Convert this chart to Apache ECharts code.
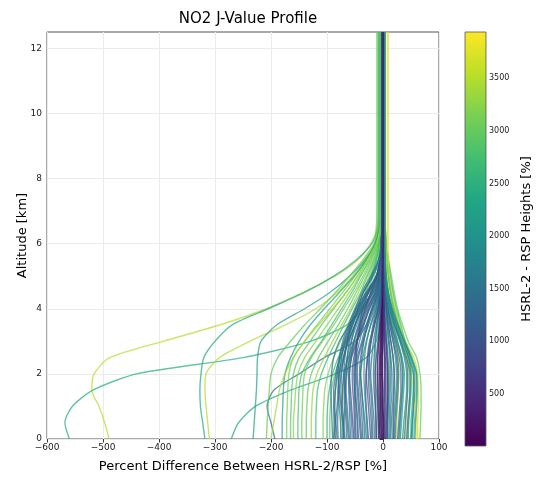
<!DOCTYPE html>
<html>
<head>
<meta charset="utf-8">
<title>NO2 J-Value Profile</title>
<script src="https://cdn.jsdelivr.net/npm/echarts@6/dist/echarts.min.js"></script>
</head>
<body style="margin:0;padding:0;background:#fff;">
<div id="main" style="width:537px;height:478px;"></div>
<script type="text/javascript">
// altitude levels [km] shared by every profile
var altitudes = [0, 0.5, 1, 1.5, 2, 2.5, 3, 3.5, 4, 4.5, 5, 5.5, 6, 6.5, 7, 12.5];

// percent difference profiles, one row per flight leg, values at the altitudes above
var outlierProfiles = [
    [-489, -497, -507, -520, -516, -488, -393, -292, -208, -143, -86, -45, -22, -10, -6, -5],
    [-560, -568, -555, -518, -440, -250, -130, -65, -35, -20, -11, -7, -5, -4, -3, -3],
    [-318, -322, -326, -327, -325, -320, -300, -270, -205, -140, -88, -48, -20, -9, -7, -7],
    [-310, -313, -316, -318, -316, -292, -238, -175, -120, -82, -55, -33, -15, -7, -5, -4],
    [-271, -258, -228, -165, -85, -30, -12, -8, -6, -5, -4, -4, -3, -3, -3, -3],
    [-232, -230, -228, -226, -225, -224, -218, -190, -140, -95, -60, -32, -14, -9, -8, -8],
    [-193, -200, -207, -195, -150, -105, -50, -30, -18, -9, -5, -3, -2, -2, -2, -2]
];
var outlierHeights = [3500, 2450, 2400, 3450, 2350, 2300, 1400];

var greenProfiles = [
    [-208, -207, -205, -203, -200, -188, -165, -140, -112, -85, -60, -36, -16, -12, -11, -11],
    [-172, -172, -171, -170, -168, -160, -140, -118, -95, -72, -50, -30, -14, -10, -9, -9],
    [-165, -165, -164, -163, -160, -150, -130, -110, -88, -66, -46, -28, -12, -7, -6, -6],
    [-160, -160, -158, -156, -152, -140, -120, -100, -80, -60, -42, -26, -12, -6, -4, -4],
    [-152, -152, -151, -150, -145, -130, -110, -92, -74, -56, -40, -24, -11, -8, -7, -7],
    [-145, -145, -144, -143, -140, -128, -108, -88, -70, -52, -36, -22, -10, -5, -3, -3],
    [-137, -137, -136, -134, -128, -115, -98, -80, -63, -48, -33, -20, -9, -4, -3, -3],
    [-128, -128, -127, -125, -118, -105, -90, -74, -58, -44, -30, -18, -8, -4, -3, -3],
    [-120, -120, -119, -117, -110, -98, -84, -70, -55, -40, -28, -16, -8, -4, -3, -3],
    [-107, -107, -106, -104, -98, -88, -76, -63, -50, -37, -25, -15, -7, -4, -3, -3],
    [-100, -100, -99, -96, -90, -80, -68, -56, -44, -32, -22, -13, -6, -3, -3, -3],
    [-95, -95, -94, -92, -86, -76, -65, -54, -42, -30, -20, -12, -6, -3, -2, -2],
    [-180, -180, -179, -178, -175, -165, -150, -130, -105, -78, -52, -30, -14, -6, -4, -4],
    [-200, -195, -190, -185, -175, -160, -140, -115, -90, -66, -45, -28, -12, -5, -4, -4],
    [-88, -88, -87, -85, -80, -72, -62, -50, -38, -27, -18, -11, -6, -4, -3, -3],
    [-75, -75, -74, -72, -68, -60, -50, -40, -30, -22, -15, -9, -5, -3, -2, -2]
];
var greenHeights = [3000, 3100, 2900, 3200, 2800, 3050, 2950, 3300, 2700, 3150, 2600, 2850, 2250, 3400, 2750, 3000];

var rightProfiles = [
    [66, 67, 68, 68, 66, 60, 45, 35, 26, 20, 15, 10, 6, 4, 3, 3],
    [62, 62, 63, 63, 62, 55, 40, 30, 22, 16, 11, 9, 9, 9, 9, 9],
    [55, 56, 58, 60, 60, 52, 40, 32, 24, 18, 13, 9, 6, 4, 3, 3],
    [60, 60, 58, 55, 50, 42, 32, 24, 18, 14, 11, 9, 8, 8, 8, 8],
    [50, 50, 52, 54, 55, 48, 38, 28, 20, 14, 10, 7, 5, 4, 3, 3],
    [40, 41, 42, 44, 45, 44, 38, 28, 20, 14, 10, 7, 5, 4, 4, 4],
    [30, 31, 33, 35, 36, 33, 26, 19, 13, 9, 6, 4, 3, 3, 3, 3],
    [44, 45, 47, 49, 50, 46, 37, 27, 19, 13, 9, 6, 4, 3, 3, 3],
    [18, 19, 21, 23, 24, 22, 18, 13, 9, 6, 4, 3, 2, 2, 2, 2],
    [24, 25, 26, 27, 28, 27, 24, 19, 14, 10, 7, 5, 4, 4, 4, 4],
    [8, 9, 10, 11, 12, 12, 10, 8, 6, 4, 3, 2, 2, 2, 2, 2],
    [-8, -9, -10, -12, -14, -14, -13, -11, -8, -6, -4, -3, -3, -3, -3, -3]
];
var rightHeights = [3000, 3650, 2700, 3850, 2500, 3550, 2600, 2900, 2300, 3700, 2750, 2400];

var blueProfiles = [
    [-90, -91, -92, -93, -92, -88, -78, -60, -40, -20, -8, -5, -3, -2, -2, -2],
    [-82, -84, -86, -85, -82, -76, -66, -55, -44, -25, -10, -5, -3, -2, -2, -2],
    [-75, -76, -78, -80, -78, -70, -62, -50, -36, -18, -7, -4, -3, -2, -2, -2],
    [-68, -70, -72, -72, -70, -62, -52, -42, -30, -14, -6, -4, -2, -2, -2, -2],
    [-60, -62, -64, -66, -65, -58, -48, -36, -24, -10, -5, -3, -2, -2, -2, -2],
    [-52, -54, -56, -58, -60, -56, -46, -35, -26, -12, -5, -3, -2, -2, -2, -2],
    [-45, -46, -48, -50, -50, -46, -38, -30, -20, -8, -4, -3, -2, -1, -1, -1],
    [-38, -40, -42, -44, -46, -44, -36, -26, -16, -7, -3, -2, -1, -1, -1, -1],
    [-30, -32, -35, -38, -40, -36, -30, -22, -12, -5, -3, -2, -1, -1, -1, -1],
    [-22, -24, -26, -28, -30, -28, -24, -16, -9, -4, -2, -1, -1, -1, -1, -1],
    [-15, -16, -18, -20, -22, -20, -17, -12, -6, -3, -2, -1, -1, -1, -1, -1],
    [5, 6, 7, 8, 8, 7, 6, 4, 3, 2, 1, 1, 1, 1, 1, 1],
    [12, 13, 14, 16, 16, 14, 11, 8, 5, 3, 2, 1, 1, 1, 1, 1],
    [20, 21, 23, 25, 26, 24, 18, 12, 7, 4, 2, 2, 1, 1, 1, 1],
    [28, 30, 32, 34, 35, 32, 24, 16, 10, 6, 3, 2, 2, 2, 2, 2],
    [35, 37, 40, 42, 42, 38, 30, 20, 12, 7, 4, 3, 2, 2, 2, 2],
    [42, 44, 46, 48, 48, 42, 32, 22, 14, 8, 5, 3, 2, 2, 2, 2],
    [50, 52, 54, 55, 54, 46, 35, 24, 15, 9, 5, 3, 3, 3, 3, 3],
    [57, 58, 60, 61, 60, 50, 38, 27, 17, 10, 6, 4, 3, 3, 3, 3],
    [-70, -72, -74, -75, -74, -70, -64, -56, -45, -35, -18, -6, -3, -2, -2, -2],
    [-55, -56, -58, -60, -62, -60, -56, -50, -40, -28, -12, -5, -3, -2, -2, -2],
    [-85, -86, -88, -88, -84, -78, -70, -60, -48, -30, -12, -5, -3, -2, -2, -2],
    [-26, -28, -30, -31, -30, -27, -22, -15, -8, -4, -2, -1, -1, -1, -1, -1],
    [18, 18, 19, 20, 20, 18, 14, 10, 6, 4, 2, 1, 1, 1, 1, 1]
];
var blueHeights = [1500, 1300, 1700, 1100, 1400, 900, 1600, 1200, 1800, 1000, 1350, 1250, 1550, 1150, 1450, 1900, 1300, 1700, 2000, 1400, 1600, 1250, 950, 1050];

var blueProfiles2 = [
    [-88, -85, -82, -80, -78, -74, -68, -58, -45, -28, -12, -5, -3, -2, -2, -2],
    [-80, -81, -80, -78, -75, -70, -63, -54, -42, -26, -10, -5, -3, -2, -2, -2],
    [-72, -70, -68, -67, -66, -64, -60, -50, -38, -20, -8, -4, -2, -2, -2, -2],
    [-65, -66, -68, -69, -68, -64, -57, -47, -35, -18, -7, -4, -2, -2, -2, -2],
    [-58, -59, -60, -61, -60, -57, -52, -44, -33, -16, -6, -3, -2, -2, -2, -2],
    [-50, -51, -52, -54, -55, -52, -46, -38, -28, -14, -6, -3, -2, -1, -1, -1],
    [-44, -45, -47, -49, -50, -48, -42, -34, -24, -12, -5, -3, -2, -1, -1, -1],
    [-36, -37, -39, -41, -42, -40, -35, -28, -19, -9, -4, -2, -1, -1, -1, -1],
    [-28, -29, -31, -33, -34, -33, -29, -22, -14, -7, -3, -2, -1, -1, -1, -1],
    [-20, -21, -23, -25, -26, -25, -21, -16, -10, -5, -2, -1, -1, -1, -1, -1],
    [-12, -13, -14, -16, -17, -16, -14, -10, -6, -3, -2, -1, -1, -1, -1, -1],
    [-6, -7, -8, -9, -10, -10, -8, -6, -4, -2, -1, -1, -1, -1, -1, -1],
    [-3, -3, -4, -4, -5, -5, -4, -3, -2, -1, -1, -1, 0, 0, 0, 0],
    [2, 2, 3, 3, 3, 3, 2, 2, 1, 1, 0, 0, 0, 0, 0, 0],
    [7, 8, 9, 10, 10, 9, 7, 5, 3, 2, 1, 1, 1, 1, 1, 1],
    [10, 11, 12, 13, 14, 13, 10, 7, 4, 2, 1, 1, 1, 1, 1, 1],
    [14, 15, 17, 19, 20, 18, 14, 9, 6, 3, 2, 1, 1, 1, 1, 1],
    [22, 23, 25, 27, 28, 26, 20, 14, 8, 5, 3, 2, 1, 1, 1, 1],
    [26, 28, 30, 32, 32, 29, 22, 15, 9, 5, 3, 2, 2, 2, 2, 2],
    [31, 33, 35, 37, 38, 34, 26, 18, 11, 6, 3, 2, 2, 2, 2, 2],
    [38, 40, 42, 44, 44, 40, 31, 21, 13, 7, 4, 3, 2, 2, 2, 2],
    [45, 46, 48, 50, 50, 45, 34, 23, 14, 8, 5, 3, 3, 3, 3, 3],
    [52, 53, 55, 57, 57, 50, 38, 26, 16, 9, 5, 4, 3, 3, 3, 3],
    [-62, -64, -66, -68, -70, -68, -64, -58, -48, -35, -20, -8, -3, -2, -2, -2],
    [-40, -42, -44, -46, -48, -48, -46, -42, -36, -26, -12, -5, -2, -1, -1, -1],
    [-18, -19, -20, -22, -24, -24, -22, -18, -12, -6, -3, -2, -1, -1, -1, -1],
    [-70, -72, -75, -78, -80, -78, -72, -62, -50, -38, -22, -8, -3, -2, -2, -2],
    [-48, -49, -50, -51, -52, -50, -46, -40, -32, -22, -10, -4, -2, -1, -1, -1],
    [-33, -34, -36, -38, -40, -38, -34, -28, -20, -10, -4, -2, -1, -1, -1, -1],
    [0, 0, -1, -1, -2, -2, -2, -1, -1, 0, 0, 0, 0, 0, 0, 0]
];
var blueHeights2 = [1250, 1450, 1150, 1650, 1350, 1050, 1550, 1250, 1750, 1150, 1450, 1000, 1300, 1600, 1100, 1850,
                    1350, 1700, 1200, 2100, 1500, 2200, 1800, 1400, 1200, 1550, 1650, 900, 1450, 1900];

var purpleProfiles = [
    [-3, -4, -4, -5, -5, -4, -3, -2, -2, -1, -1, -1, -1, -1, -1, -1],
    [0, 0, -1, -1, -1, -1, -1, -1, -1, 0, 0, 0, 0, 0, 0, 0],
    [-8, -8, -9, -10, -10, -9, -7, -5, -3, -2, -1, -1, -1, -1, -1, -1],
    [4, 4, 5, 5, 5, 4, 3, 2, 2, 1, 1, 0, 0, 0, 0, 0],
    [-1, -2, -2, -3, -3, -3, -2, -2, -1, -1, 0, 0, 0, 0, 0, 0],
    [2, 2, 2, 3, 3, 3, 2, 1, 1, 1, 0, 0, 0, 0, 0, 0],
    [-5, -6, -6, -7, -7, -6, -5, -4, -2, -1, -1, 0, 0, 0, 0, 0],
    [-12, -12, -13, -14, -14, -12, -9, -6, -4, -2, -1, -1, -1, -1, -1, -1],
    [1, 1, 0, 0, -1, -1, 0, 0, 0, 0, 0, 0, 0, 0, 0, 0],
    [7, 7, 8, 8, 8, 7, 5, 3, 2, 1, 1, 0, 0, 0, 0, 0]
];
var purpleHeights = [150, 300, 450, 600, 250, 700, 80, 750, 200, 650];

var xTicks = [-600, 100, 100];   // min, max, interval
var yTickValues = [0, 2, 4, 6, 8, 10, 12];
var yRange = [0, 12.5];
var cbRange = [5, 3940];
var cbTicks = [500, 1000, 1500, 2000, 2500, 3000, 3500];

// viridis colormap
var viridis = ['#440154', '#482475', '#414487', '#355f8d', '#2a788e', '#21918c',
               '#22a884', '#44bf70', '#7ad151', '#bddf26', '#fde725'];

function hexRgb(h) {
    return [parseInt(h.substr(1, 2), 16), parseInt(h.substr(3, 2), 16), parseInt(h.substr(5, 2), 16)];
}
function cmap(v) {
    var t = (v - cbRange[0]) / (cbRange[1] - cbRange[0]);
    t = Math.max(0, Math.min(1, t)) * (viridis.length - 1);
    var i = Math.min(Math.floor(t), viridis.length - 2);
    var f = t - i;
    var a = hexRgb(viridis[i]), b = hexRgb(viridis[i + 1]);
    return 'rgb(' + [0, 1, 2].map(function (k) { return Math.round(a[k] + (b[k] - a[k]) * f); }).join(',') + ')';
}

var series = [];
function addGroup(profiles, heights) {
    profiles.forEach(function (p, i) {
        series.push({
            type: 'line',
            xAxisIndex: 0,
            yAxisIndex: 0,
            showSymbol: false,
            silent: true,
            smooth: 0.25,
            lineStyle: { width: 1.4, color: cmap(heights[i]), opacity: 0.72 },
            data: altitudes.map(function (h, k) { return [p[k], h]; })
        });
    });
}
addGroup(outlierProfiles, outlierHeights);
addGroup(greenProfiles, greenHeights);
addGroup(rightProfiles, rightHeights);
addGroup(blueProfiles, blueHeights);
addGroup(blueProfiles2, blueHeights2);
addGroup(purpleProfiles, purpleHeights);

// colour bar
series.push({
    type: 'custom',
    xAxisIndex: 1,
    yAxisIndex: 1,
    silent: true,
    data: [[0, cbRange[0]]],
    renderItem: function (params, api) {
        var p0 = api.coord([0, cbRange[1]]);
        var p1 = api.coord([1, cbRange[0]]);
        var stops = viridis.map(function (c, i) {
            return { offset: 1 - i / (viridis.length - 1), color: c };
        }).reverse();
        return {
            type: 'rect',
            shape: { x: p0[0], y: p0[1], width: p1[0] - p0[0], height: p1[1] - p0[1] },
            style: {
                fill: new echarts.graphic.LinearGradient(0, 0, 0, 1, stops),
                stroke: '#555',
                lineWidth: 0.8
            }
        };
    }
});

var font = 'DejaVu Sans';
var myChart = echarts.init(document.getElementById('main'));
var option = {
    animation: false,
    backgroundColor: '#fff',
    title: {
        text: 'NO2 J-Value Profile',
        left: 243,
        top: 7,
        textAlign: 'center',
        textStyle: { fontFamily: font, fontSize: 15, fontWeight: 'normal', color: '#000' }
    },
    grid: [
        { left: 47, right: 98, top: 32, bottom: 32, show: true, borderColor: '#555', borderWidth: 1, backgroundColor: 'transparent' },
        { left: 465, width: 21, top: 32, bottom: 32 }
    ],
    xAxis: [{
        type: 'value',
        gridIndex: 0,
        min: xTicks[0],
        max: xTicks[1],
        interval: xTicks[2],
        name: 'Percent Difference Between HSRL-2/RSP [%]',
        nameLocation: 'middle',
        nameGap: 21,
        nameTextStyle: { fontFamily: font, fontSize: 13, color: '#000' },
        axisLine: { show: false },
        axisTick: { show: true, length: 3.5, lineStyle: { color: '#333' } },
        axisLabel: {
            fontFamily: font, fontSize: 9, color: '#222', margin: 4,
            formatter: function (v) { return String(v).replace('-', '\u2212'); }
        },
        splitLine: { show: true, lineStyle: { color: '#ebebeb', width: 1 } }
    }, {
        type: 'value',
        gridIndex: 1,
        min: 0,
        max: 1,
        show: false
    }],
    yAxis: [{
        type: 'value',
        gridIndex: 0,
        min: yRange[0],
        max: yRange[1],
        interval: 2,
        name: 'Altitude [km]',
        nameLocation: 'middle',
        nameGap: 18,
        nameMoveOverlap: false,
        nameRotate: 90,
        nameTextStyle: { fontFamily: font, fontSize: 13, color: '#000' },
        axisLine: { show: false },
        axisTick: { show: true, length: 3.5, customValues: yTickValues, lineStyle: { color: '#333' } },
        axisLabel: { fontFamily: font, fontSize: 9, color: '#222', margin: 5, customValues: yTickValues },
        splitLine: { show: true, lineStyle: { color: '#ebebeb', width: 1 } }
    }, {
        type: 'value',
        gridIndex: 1,
        position: 'right',
        min: cbRange[0],
        max: cbRange[1],
        name: 'HSRL-2 - RSP Heights [%]',
        nameLocation: 'middle',
        nameGap: 34,
        nameRotate: 90,
        nameTextStyle: { fontFamily: font, fontSize: 13, color: '#000' },
        axisLine: { show: false },
        axisTick: { show: true, length: 3.5, customValues: cbTicks, lineStyle: { color: '#333' } },
        axisLabel: {
            fontFamily: font, fontSize: 8, color: '#222', margin: 3, customValues: cbTicks,
            formatter: function (v) { return String(v); }
        },
        splitLine: { show: false }
    }],
    series: series
};
myChart.setOption(option);
</script>
</body>
</html>
